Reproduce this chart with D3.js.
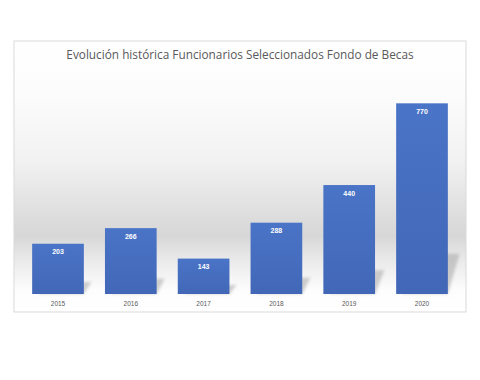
<!DOCTYPE html>
<html><head><meta charset="utf-8">
<script src="https://cdn.jsdelivr.net/npm/d3@7"></script>
<style>html,body{margin:0;padding:0;background:#fff;}svg{display:block;}</style>
</head><body>
<script>
const title = "Evolución histórica Funcionarios Seleccionados Fondo de Becas";
const years = ["2015","2016","2017","2018","2019","2020"];
const values = [203,266,143,288,440,770];

const W = 480, H = 380;
const svg = d3.select("body").append("svg").attr("width", W).attr("height", H);
const defs = svg.append("defs");

const frame = {x:14, y:41, w:452, h:271};
const baseY = 294;

const bg = defs.append("linearGradient").attr("id","bg").attr("x1",0).attr("y1",0).attr("x2",0).attr("y2",1);
[[0,"#ffffff"],[0.2,"#fcfcfc"],[0.45,"#f1f1f1"],[0.66,"#dcdcdc"],[0.72,"#d7d7d7"],[0.8,"#e8e8e8"],[0.92,"#fdfdfd"],[1,"#ffffff"]]
  .forEach(([o,c])=>bg.append("stop").attr("offset",o).attr("stop-color",c));

const barG = defs.append("linearGradient").attr("id","barg").attr("x1",0).attr("y1",0).attr("x2",0).attr("y2",1);
barG.append("stop").attr("offset",0).attr("stop-color","#4a74c7");
barG.append("stop").attr("offset",1).attr("stop-color","#4267b7");

const blur = defs.append("filter").attr("id","blur").attr("x","-50%").attr("y","-50%").attr("width","200%").attr("height","200%");
blur.append("feGaussianBlur").attr("stdDeviation",1.8);

svg.append("rect").attr("x",frame.x).attr("y",frame.y).attr("width",frame.w).attr("height",frame.h)
  .attr("fill","url(#bg)").attr("stroke","#d9d9d9").attr("stroke-width",1);

const x = d3.scaleBand().domain(years).range([21.6, 458.4]).paddingInner(0.29).paddingOuter(0.145);
const y = d3.scaleLinear().domain([0, 800]).range([baseY, baseY - 198.1]);

// shadows
const sh = svg.append("g").attr("filter","url(#blur)");
years.forEach((yr,i)=>{
  const x0 = x(yr), x1 = x0 + x.bandwidth();
  const bh = baseY - y(values[i]);
  const h = 0.2*bh + 2, dx = 0.03*bh + 6;
  sh.append("path")
    .attr("d", `M${x0+6},${baseY} L${x1},${baseY} L${x1+dx},${baseY-h} L${x0+6+dx},${baseY-h} Z`)
    .attr("fill","#a0a0a0").attr("opacity",0.5);
});

svg.append("g").selectAll("rect").data(values).join("rect")
  .attr("x",(d,i)=>x(years[i])).attr("y",d=>y(d))
  .attr("width",x.bandwidth()).attr("height",d=>baseY-y(d))
  .attr("fill","url(#barg)");

svg.append("g").selectAll("text").data(values).join("text")
  .attr("x",(d,i)=>x(years[i])+x.bandwidth()/2).attr("y",d=>y(d)+10.5)
  .attr("text-anchor","middle").attr("fill","#ffffff")
  .attr("font-family","Liberation Sans, Arial, sans-serif").attr("font-weight","bold").attr("font-size","7px")
  .text(d=>d);

const xAxis = d3.axisBottom(x).tickSize(0).tickPadding(7);
const ax = svg.append("g").attr("transform",`translate(0,${baseY})`).call(xAxis);
ax.select(".domain").remove();
ax.selectAll("text").attr("fill","#595959").attr("font-family","Liberation Sans, Arial, sans-serif").attr("font-size","6.5px");

svg.append("text").attr("x",240).attr("y",59).attr("text-anchor","middle")
  .attr("fill","#595959").attr("font-family","Open Sans, Liberation Sans, sans-serif").attr("font-size","11.8px")
  .text(title);
</script>
</body></html>
